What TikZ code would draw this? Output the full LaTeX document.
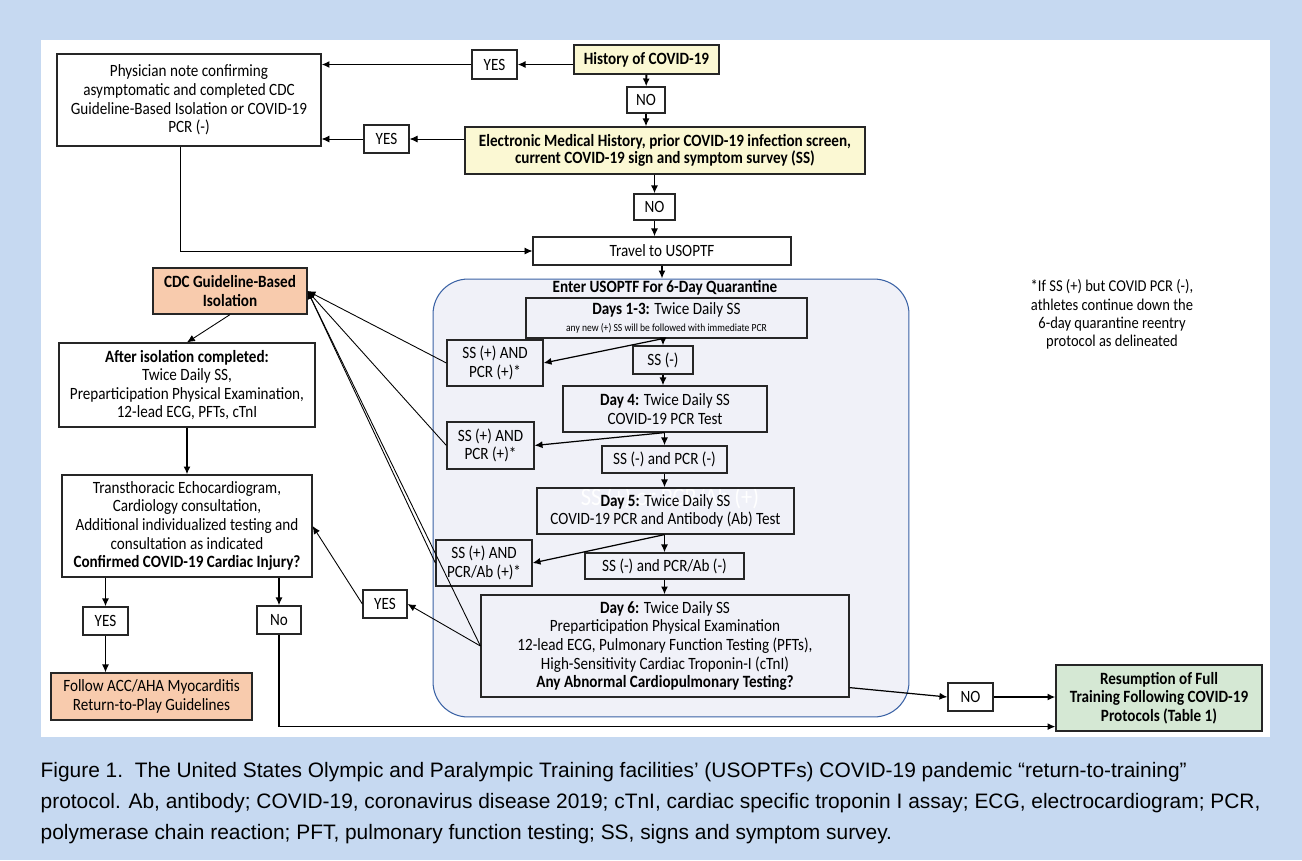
\documentclass[tikz,border=0pt]{standalone}
\usepackage{fontspec}
\setmainfont{Carlito}[FakeStretch=0.88]
\newfontfamily\capfont{Liberation Sans}
\usetikzlibrary{arrows.meta}
\definecolor{bgblue}{HTML}{C6D9F1}
\definecolor{boxyellow}{HTML}{FBF8D3}
\definecolor{boxsalmon}{HTML}{F8CBAD}
\definecolor{boxgreen}{HTML}{D5E8D4}
\definecolor{quarfill}{HTML}{F0F1F8}
\definecolor{quarline}{HTML}{3A62A5}

\begin{document}
\begin{tikzpicture}[x=0.02cm,y=-0.02cm,thick,
  font=\fontsize{9.8}{10.6}\selectfont,
  box/.style={draw=black!85,line width=0.7pt,align=center,inner sep=1pt},
  arrow/.style={-{Latex[length=4.5pt,width=4pt]},line width=0.5pt},
  bigarrow/.style={-{Latex[length=4.5pt,width=4pt]},line width=1.1pt}]

	\useasboundingbox (0,0) rectangle (1302,860);
	\fill[bgblue] (0,0) rectangle (1302,860);
	\fill[white] (41,40) rectangle (1270,737);

	% quarantine area
	\node (quar) [draw=quarline,fill=quarfill,line width=0.6pt,rounded corners=0.7cm,minimum width=9.52cm,minimum height=8.76cm] at (671,498) {};
	\node (quartitle) [font=\fontsize{9.8}{10.6}\selectfont\bfseries] at (665,288) {Enter USOPTF For 6-Day Quarantine};

	% top
	\node (hist) [box,fill=boxyellow,font=\fontsize{9.8}{10.6}\selectfont\bfseries,minimum width=2.9cm,minimum height=0.58cm] at (646.5,59.5) {History of COVID-19};
	\node (yes1) [box,minimum width=0.9cm,minimum height=0.58cm] at (494.5,64.5) {YES};
	\node (phys) [box,minimum width=5.28cm,minimum height=1.84cm] at (189,100) {Physician note confirming\\asymptomatic and completed CDC\\Guideline-Based Isolation or COVID-19\\PCR (-)};
	\node (no1) [box,minimum width=0.76cm,minimum height=0.52cm] at (646,100) {NO};
	\node (emh) [box,fill=boxyellow,font=\fontsize{9.8}{10}\selectfont\bfseries,minimum width=8cm,minimum height=0.94cm] at (665,150.5) {Electronic Medical History, prior COVID-19 infection screen,\\current COVID-19 sign and symptom survey (SS)};
	\node (yes2) [box,minimum width=0.9cm,minimum height=0.56cm] at (386.5,139) {YES};
	\node (no2) [box,minimum width=0.82cm,minimum height=0.52cm] at (654.5,207) {NO};
	\node (travel) [box,minimum width=5.16cm,minimum height=0.56cm] at (662,251) {Travel to USOPTF};

	% six days
	\node (days13) [box,minimum width=5.62cm,minimum height=0.8cm] at (666.5,318) {\textbf{Days 1-3:} Twice Daily SS\\[-1pt]{\fontsize{6.2}{7}\selectfont any new (+) SS will be followed with immediate PCR}};
	\node (ssm1) [box,minimum width=1.2cm,minimum height=0.56cm] at (663,360) {SS (-)};
	\node (ssp1) [box,minimum width=1.92cm,minimum height=0.92cm] at (495,363) {SS (+) AND\\PCR (+)*};
	\node (day4) [box,minimum width=4.08cm,minimum height=0.92cm] at (665,409) {\textbf{Day 4:} Twice Daily SS\\COVID-19 PCR Test};
	\node (ssp2) [box,minimum width=1.74cm,minimum height=0.94cm] at (490.5,445.5) {SS (+) AND\\PCR (+)*};
	\node (ssm2) [box,minimum width=2.5cm,minimum height=0.54cm] at (664.5,459.5) {SS (-) and PCR (-)};
	\node (ghost) [text=white,font=\fontsize{14.5}{15}\selectfont] at (670,498) {SS (+) or PCR/Ab (+)};
	\node (day5) [box,minimum width=5.14cm,minimum height=0.92cm] at (665.5,511) {\textbf{Day 5:} Twice Daily SS\\COVID-19 PCR and Antibody (Ab) Test};
	\node (ssp3) [box,minimum width=1.92cm,minimum height=0.92cm] at (484,563) {SS (+) AND\\PCR/Ab (+)*};
	\node (ssm3) [box,minimum width=3.18cm,minimum height=0.52cm] at (664.5,566) {SS (-) and PCR/Ab (-)};
	\node (day6) [box,minimum width=7.36cm,minimum height=2.04cm] at (665,646) {\textbf{Day 6:} Twice Daily SS\\Preparticipation Physical Examination\\12-lead ECG, Pulmonary Function Testing (PFTs),\\High-Sensitivity Cardiac Troponin-I (cTnI)\\\textbf{Any Abnormal Cardiopulmonary Testing?}};

	% right
	\node (no3) [box,minimum width=0.9cm,minimum height=0.56cm] at (970.5,697) {NO};
	\node (resume) [box,fill=boxgreen,font=\fontsize{9.8}{10.6}\selectfont\bfseries,minimum width=4.12cm,minimum height=1.32cm] at (1159,698) {Resumption of Full\\Training Following COVID-19\\Protocols (Table 1)};
	\node (note) [align=center,font=\fontsize{9.4}{10.4}\selectfont] at (1112,314.5) {*If SS (+) but COVID PCR (-),\\athletes continue down the\\6-day quarantine reentry\\protocol as delineated};

	% left
	\node (cdc) [box,fill=boxsalmon,font=\fontsize{9.8}{10.6}\selectfont\bfseries,minimum width=3.08cm,minimum height=0.92cm] at (230,291) {CDC Guideline-Based\\Isolation};
	\node (after) [box,minimum width=5.12cm,minimum height=1.68cm] at (187,385) {\textbf{After isolation completed:}\\Twice Daily SS,\\Preparticipation Physical Examination,\\12-lead ECG, PFTs, cTnI};
	\node (tte) [box,minimum width=5cm,minimum height=2.04cm] at (187,526) {Transthoracic Echocardiogram,\\Cardiology consultation,\\Additional individualized testing and\\consultation as indicated\\\textbf{Confirmed COVID-19 Cardiac Injury?}};
	\node (yes3) [box,minimum width=0.9cm,minimum height=0.56cm] at (105.5,621) {YES};
	\node (nobox) [box,minimum width=0.88cm,minimum height=0.56cm] at (279,620) {No};
	\node (acc) [box,fill=boxsalmon,minimum width=4.02cm,minimum height=0.94cm] at (151.5,696.5) {Follow ACC/AHA Myocarditis\\Return-to-Play Guidelines};
	\node (yes4) [box,minimum width=0.88cm,minimum height=0.56cm] at (385,604) {YES};

	% caption
	\node (caption) [anchor=north west,align=left,inner sep=0pt,font=\capfont\fontsize{11.9}{17.6}\selectfont] at (40,762) {Figure 1.\ \ The United States Olympic and Paralympic Training facilities’ (USOPTFs) COVID-19 pandemic “return-to-training”\\protocol. Ab, antibody; COVID-19, coronavirus disease 2019; cTnI, cardiac specific troponin I assay; ECG, electrocardiogram; PCR,\\polymerase chain reaction; PFT, pulmonary function testing; SS, signs and symptom survey.};

	% connectors
	\draw[bigarrow] (hist.west |- yes1.east) -- (yes1.east);
	\draw[bigarrow] (yes1.west) -- (yes1.west -| phys.east);
	\draw[bigarrow] (hist) -- (no1);
	\draw[bigarrow] (no1) -- (no1 |- emh.north);
	\draw[arrow] (emh.west |- yes2.east) -- (yes2.east);
	\draw[arrow] (yes2.west) -- (yes2.west -| phys.east);
	\draw[bigarrow] (no2 |- emh.south) -- (no2.north);
	\draw[bigarrow] (no2) -- (no2 |- travel.north);
	\draw[arrow] ([xshift=-0.18cm]phys.south) |- (travel.west);
	\draw[bigarrow] (travel.south) -- (travel.south |- quar.north);

	\draw[bigarrow] (ssm1 |- days13.south) -- (ssm1.north);
	\draw[arrow,line width=0.7pt] (ssm1 |- days13.south) -- (ssp1.east);
	\draw[bigarrow] (ssm1) -- (ssm1 |- day4.north);
	\draw[bigarrow] (ssm2 |- day4.south) -- (ssm2.north);
	\draw[arrow,line width=0.7pt] (ssm2 |- day4.south) -- (ssp2.east);
	\draw[bigarrow] (ssm2) -- (ssm2 |- day5.north);
	\draw[bigarrow] (ssm3 |- day5.south) -- (ssm3.north);
	\draw[arrow,line width=0.7pt] (ssm3 |- day5.south) -- (ssp3.east);
	\draw[bigarrow] (ssm3) -- (ssm3 |- day6.north);

	\foreach \n in {ssp1,ssp2,ssp3,day6}
		\draw[arrow] (\n.west) -- (cdc.east);
	\draw[arrow] (day6.west) -- (yes4.east);
	\draw[arrow] (yes4.west) -- (tte.east);
	\draw[arrow] (cdc.south) -- (after.north);
	\draw[bigarrow] (after) -- (tte);
	\draw[bigarrow] (yes3 |- tte.south) -- (yes3.north);
	\draw[bigarrow] (nobox |- tte.south) -- (nobox.north);
	\draw[arrow,line width=0.7pt] (yes3.south) -- (yes3.south |- acc.north);
	\draw[arrow,line width=0.7pt] (nobox.south) |- ([yshift=0.1cm]resume.south west);
	\draw[arrow,line width=0.7pt] ([yshift=0.2cm]day6.south east) -- (no3.west);
	\draw[bigarrow] (no3.east) -- (no3.east -| resume.west);

\end{tikzpicture}
\end{document}
